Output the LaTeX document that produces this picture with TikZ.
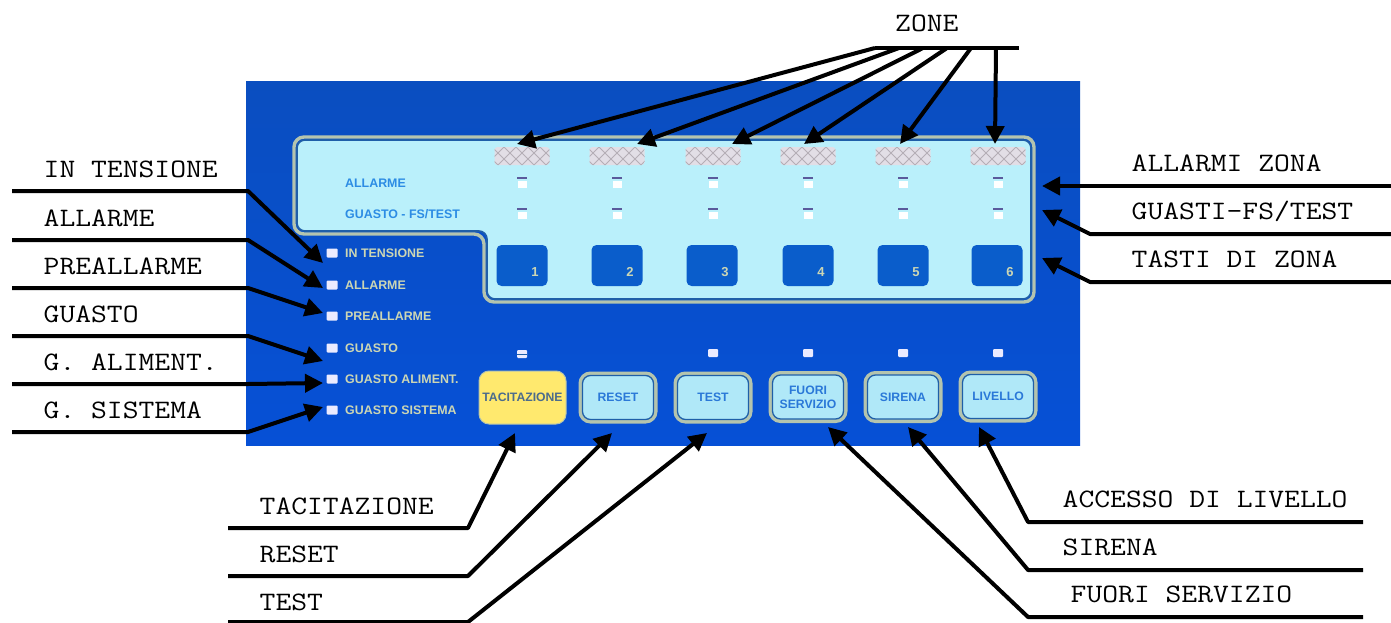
\documentclass[tikz,border=0pt]{standalone}
\usepackage{fontspec}
\setmainfont{Liberation Sans}
\newfontfamily\capfont[FakeStretch=1.155]{Latin Modern Mono}
\usetikzlibrary{arrows.meta}
\definecolor{panelA}{HTML}{0A4EC0}
\definecolor{panelB}{HTML}{0650D6}
\definecolor{lightA}{HTML}{B0E8F8}
\definecolor{lightB}{HTML}{BAF0FB}
\definecolor{rim}{HTML}{B4C4AE}
\definecolor{rimdark}{HTML}{1F5FA8}
\definecolor{keyblue}{HTML}{0A5DCB}
\definecolor{inktext}{HTML}{2C8CE4}
\definecolor{capt}{HTML}{CCD6B4}
\definecolor{keytext}{HTML}{2A78D8}
\definecolor{yellowkey}{HTML}{FFE96E}
\definecolor{yellowtext}{HTML}{4C6C8C}
\definecolor{grillebg}{HTML}{E2DEE6}
\definecolor{grilleln}{HTML}{B4AEB6}
\definecolor{ledtop}{HTML}{5A5A9C}
\tikzset{
  callout/.style={draw=black,line width=4pt,line join=round,-{Triangle[length=18pt,width=18pt]}},
  plainline/.style={draw=black,line width=4pt},
  capmono/.style={anchor=base west,inner sep=0pt,font=\fontsize{26.6}{28}\selectfont\capfont,text=black},
  zonekey/.style={fill=keyblue,rounded corners=5pt,minimum width=51pt,minimum height=41pt,inner sep=0pt},
  keynum/.style={inner sep=0pt,font=\fontsize{13}{14}\selectfont\bfseries,text=capt},
  ledcap/.style={anchor=base west,inner sep=0pt,font=\fontsize{12.4}{14}\selectfont\bfseries,text=capt},
  inkcap/.style={anchor=base west,inner sep=0pt,font=\fontsize{12.4}{14}\selectfont\bfseries,text=inktext},
  sideled/.style={fill=white!92!blue,minimum width=11pt,minimum height=9pt,inner sep=0pt,rounded corners=1pt},
  zoneled/.style={fill=white,minimum width=9pt,minimum height=7pt,inner sep=0pt},
  ledbar/.style={fill=ledtop,minimum width=10pt,minimum height=1.6pt,inner sep=0pt},
  grille/.style={fill=grillebg,rounded corners=3pt,minimum width=55pt,minimum height=18pt,inner sep=0pt,
    path picture={
      \foreach \k in {-60,-48,...,72}{
        \draw[grilleln,line width=1pt]
          ([xshift=\k pt]path picture bounding box.south) -- ++(20pt,20pt);
        \draw[grilleln,line width=1pt]
          ([xshift=\k pt]path picture bounding box.south) -- ++(-20pt,20pt);
      }}},
  panelkey/.style={fill=lightA,draw=rimdark,line width=1.3pt,rounded corners=8pt,
    minimum width=71pt,minimum height=44pt,inner sep=0pt,align=center,
    font=\fontsize{12.2}{14}\selectfont\bfseries,text=keytext,
    preaction={draw=rim,line width=8pt}},
  yellowbutton/.style={fill=yellowkey,draw=rim,line width=1pt,rounded corners=10pt,
    minimum width=87pt,minimum height=53pt,inner sep=0pt,
    font=\fontsize{12.2}{14}\selectfont\bfseries,text=yellowtext},
}
\begin{document}
\begin{tikzpicture}[x=1pt,y=-1pt]
\useasboundingbox (0,0) rectangle (1391,623);
% panel
\path[top color=panelA,bottom color=panelB] (246,82) rectangle (1080,445);
% light window
\path[draw=rim,line width=3.4pt,rounded corners=10pt]
  (294,137) -- (1034,137) -- (1034,302) -- (484,302) -- (484,234) -- (294,234) -- cycle;
\path[fill=lightB,draw=rimdark,line width=1.6pt,rounded corners=8pt]
  (297,140) -- (1031,140) -- (1031,299) -- (487,299) -- (487,231) -- (297,231) -- cycle;
% zone grilles, LEDs, keys
\foreach \n/\x/\kx in {1/522/522,2/617/617,3/713/712,4/808/808,5/903/903,6/998/997}{
  \node[grille] (grille\n) at (\x,156) {};
  \node[ledbar] (ledalarmtop\n) at (\x,178) {};
  \node[zoneled] (ledalarm\n) at (\x,184) {};
  \node[ledbar] (ledfaulttop\n) at (\x,209) {};
  \node[zoneled] (ledfault\n) at (\x,215) {};
  \node[zonekey] (key\n) at (\kx,265.5) {};
  \node[keynum] (num\n) at (\kx+13,272) {\n};
}
\node[inkcap] (capalarm) at (345,187) {ALLARME};
\node[inkcap] (capfault) at (345,218) {GUASTO - FS/TEST};
% side LEDs
\foreach \n/\y/\t in {a/253/IN TENSIONE,b/285/ALLARME,c/316/PREALLARME,d/348/GUASTO,e/379/GUASTO ALIMENT.,f/410/GUASTO SISTEMA}{
  \node[sideled] (side\n) at (332,\y) {};
  \node[ledcap] (sidecap\n) at (345,\y+4) {\t};
}
% buttons
\node[yellowbutton] (btnA) at (522.5,397.5) {TACITAZIONE};
\node[panelkey] (btnB) at (618,397.5) {RESET};
\node[panelkey] (btnC) at (713,397.5) {TEST};
\node[panelkey] (btnD) at (808,397) {FUORI\\SERVIZIO};
\node[panelkey] (btnE) at (903,397) {SIRENA};
\node[panelkey] (btnF) at (998,396.5) {LIVELLO};
\node[sideled,minimum width=10pt,minimum height=8pt] (ledA) at (522,354) {};
\draw[rimdark,line width=.8pt] (ledA.west) -- (ledA.east);
\foreach \n/\x in {C/713,D/808,E/903,F/998}{
  \node[sideled,minimum width=10pt,minimum height=8pt] (led\n) at (\x,353) {};
}
% ZONE
\node[capmono] (zone) at (895,32) {ZONE};
\coordinate (zbarL) at (875,48);
\coordinate (zbarR) at (1019,48);
\draw[plainline] (zbarL) -- (zbarR);
\foreach \s/\e/\n in {875/517/a,899/637/b,923/732/c,947/804/d,971/900/e,996/995/f}{
  \coordinate (zs\n) at (\s,48);
  \coordinate (zt\n) at (\e,144);
  \draw[callout] (zs\n) -- (zt\n);
}
% left callouts
\foreach \n/\ly/\kx/\ty/\ttext in {
  a/191/248/263/IN TENSIONE,
  b/240/248/288/ALLARME,
  c/288/248/313/PREALLARME,
  d/336/248/361/GUASTO,
  e/384/248/383/G. ALIMENT.,
  f/432/248/407/G. SISTEMA}{
  \coordinate (ls\n) at (12,\ly);
  \coordinate (lk\n) at (\kx,\ly);
  \coordinate (lt\n) at (323,\ty);
  \node[capmono] (lcap\n) at (43.5,\ly-14) {\ttext};
  \draw[callout] (ls\n) -- (lk\n) -- (lt\n);
}
% right callouts
\foreach \n/\ly/\kx/\ty/\ttext in {
  a/186/1090/186/{ALLARMI ZONA},
  b/234/1090/210/{GUASTI-FS/TEST},
  c/282/1090/258/{TASTI DI ZONA}}{
  \coordinate (rs\n) at (1391,\ly);
  \coordinate (rk\n) at (\kx,\ly);
  \coordinate (rt\n) at (1042,\ty);
  \node[capmono] (rcap\n) at (1131.5,\ly-15) {\ttext};
  \draw[callout] (rs\n) -- (rk\n) -- (rt\n);
}
% bottom left callouts
\foreach \n/\ly/\tx/\by/\ttext in {
  a/528/515/514/TACITAZIONE,
  b/576/612/562/RESET,
  c/622/707/610/TEST}{
  \coordinate (bs\n) at (228,\ly);
  \coordinate (bk\n) at (468,\ly);
  \coordinate (bt\n) at (\tx,433);
  \node[capmono] (bcap\n) at (259.5,\by) {\ttext};
  \draw[callout] (bs\n) -- (bk\n) -- (bt\n);
}
% bottom right callouts
\foreach \n/\ly/\tx/\lx/\ttext in {
  a/522/979/1062.5/ACCESSO DI LIVELLO,
  b/570/908/1062.5/SIRENA,
  c/617/828/1070.5/FUORI SERVIZIO}{
  \coordinate (cs\n) at (1363,\ly);
  \coordinate (ck\n) at (1028,\ly);
  \coordinate (ct\n) at (\tx,427);
  \node[capmono] (ccap\n) at (\lx,\ly-15) {\ttext};
  \draw[callout] (cs\n) -- (ck\n) -- (ct\n);
}
\end{tikzpicture}
\end{document}
